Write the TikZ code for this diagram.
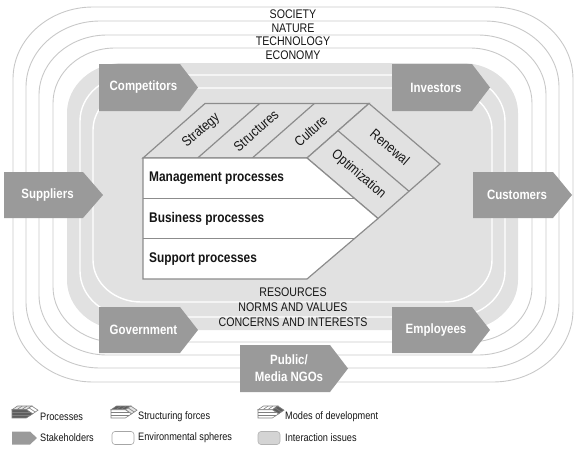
\documentclass[tikz,border=0pt]{standalone}
\usepackage{fontspec}
\setmainfont{Liberation Sans}[FakeStretch=0.85]
\definecolor{ringline}{HTML}{C8C8C8}
\definecolor{bandgray}{HTML}{E1E1E1}
\definecolor{stkgray}{HTML}{9A9A9A}
\definecolor{coreline}{HTML}{8C8C8C}
\definecolor{txt}{HTML}{151515}
\definecolor{icondark}{HTML}{5E5E5E}
\definecolor{iconlight}{HTML}{E4E4E4}

% rounded ring with elliptical corners: #1 style, #2 x1, #3 y1, #4 x2, #5 y2, #6 rx, #7 ry
\newcommand\ringdraw[7]{%
  \path[#1] (#2+#6,#3) -- (#4-#6,#3)
    .. controls (#4-0.45*#6,#3) and (#4,#3+0.45*#7) .. (#4,#3+#7)
    -- (#4,#5-#7)
    .. controls (#4,#5-0.45*#7) and (#4-0.45*#6,#5) .. (#4-#6,#5)
    -- (#2+#6,#5)
    .. controls (#2+0.45*#6,#5) and (#2,#5-0.45*#7) .. (#2,#5-#7)
    -- (#2,#3+#7)
    .. controls (#2,#3+0.45*#7) and (#2+0.45*#6,#3) .. (#2+#6,#3) -- cycle;}

% stakeholder arrow: #1 name, #2 x1, #3 y1, #4 rect right, #5 tip, #6 y2, #7 text
\newcommand\stake[7]{%
  \fill[stkgray] (#2,#3) -- (#4,#3) -- (#5,{(#3+#6)/2}) -- (#4,#6) -- (#2,#6) -- cycle;
  \node[stktext] (#1) at ({(#2+#4)/2+4},{(#3+#6)/2}) {#7};}

% core shapes: #1 process fill, #2 structuring fill, #3 modes fill, #4 line style
\newcommand\coreshape[4]{%
  \filldraw[fill=#2,#4] (143,158) -- (205,103.5) -- (369,103.5) -- (307,158) -- cycle;
  \draw[#4] (197.67,158) -- (259.67,103.5) (252.33,158) -- (314.33,103.5);
  \filldraw[fill=#3,#4] (307,158) -- (369,103.5) -- (440,164) -- (378,218.5) -- cycle;
  \draw[#4] (338,130.75) -- (409,191.25);
  \filldraw[fill=#1,#4] (143,158) -- (307,158) -- (378,218.5) -- (307,279) -- (143,279) -- cycle;
  \draw[#4] (143,198.33) -- (354.3,198.33) (143,238.67) -- (354.3,238.67);}

\tikzset{
  ringstyle/.style={draw=ringline, line width=0.9pt},
  innerring/.style={draw=white, line width=1.4pt},
  stktext/.style={text=white, font=\bfseries\fontsize{13.5}{17}\selectfont, align=center, inner sep=0pt},
  envtext/.style={text=txt, font=\fontsize{12.5}{14}\selectfont, inner sep=0pt},
  proctext/.style={text=txt, font=\bfseries\fontsize{14}{16}\selectfont, anchor=west, inner sep=0pt},
  forcetext/.style={text=txt, font=\fontsize{14}{15}\selectfont, inner sep=0pt},
  legtext/.style={text=txt, font=\fontsize{10.8}{12}\selectfont, anchor=west, inner sep=0pt},
  coreline/.style={draw=coreline, line width=1.2pt, line join=miter},
  iconline/.style={draw=black!50, line width=0.6pt}
}

\begin{document}
\begin{tikzpicture}[x=1pt,y=-1pt]
\useasboundingbox (0,0) rectangle (581,450);

% environmental spheres
\ringdraw{ringstyle}{13}{7}{573}{382}{80}{72}
\ringdraw{ringstyle}{26}{21}{559}{368}{74}{66}
\ringdraw{ringstyle}{39}{35}{546}{355}{68}{60}
\ringdraw{ringstyle}{53}{48}{532}{342}{62}{55}
% interaction issues
\ringdraw{fill=bandgray}{67}{63}{518}{330}{56}{50}
\ringdraw{innerring}{80}{75}{505}{317}{52}{46}
\ringdraw{innerring}{93}{88}{492}{302}{48}{42}

% sphere labels
\node[envtext] (society) at (293,14) {SOCIETY};
\node[envtext] (nature) at (293,28) {NATURE};
\node[envtext] (technology) at (293,41.5) {TECHNOLOGY};
\node[envtext] (economy) at (293,55.5) {ECONOMY};

% interaction labels
\node[envtext] (resources) at (293,292) {RESOURCES};
\node[envtext] (norms) at (293,307.5) {NORMS AND VALUES};
\node[envtext] (concerns) at (293,322.5) {CONCERNS AND INTERESTS};

% core
\coreshape{white}{bandgray}{bandgray}{coreline}
\node[forcetext, rotate=41.3] (strategy) at (201.3,130.75) {Strategy};
\node[forcetext, rotate=41.3] (structures) at (256,130.75) {Structures};
\node[forcetext, rotate=41.3] (culture) at (310.7,130.75) {Culture};
\node[forcetext, rotate=-40.4] (renewal) at (390,147) {Renewal};
\node[forcetext, rotate=-40.4] (optimization) at (358.5,174.5) {Optimization};
\node[proctext] (mgmt) at (149,178.2) {Management processes};
\node[proctext] (business) at (149,218.5) {Business processes};
\node[proctext] (support) at (149,258.8) {Support processes};

% stakeholders
\stake{competitors}{99}{64}{180}{198}{111}{Competitors}
\stake{investors}{392}{64}{472}{490}{111}{Investors}
\stake{suppliers}{4}{172}{83}{103}{218}{Suppliers}
\stake{customers}{473}{172}{553}{572}{218}{Customers}
\stake{government}{99}{307}{180}{198}{353}{Government}
\stake{employees}{392}{307}{472}{490}{353}{Employees}
\stake{public}{240}{345}{330}{348}{392}{Public/\\Media NGOs}

% legend icons
\begin{scope}[shift={(-0.51,399)}, xscale=0.0875, yscale=0.068]
  \coreshape{icondark}{iconlight}{white}{iconline}
\end{scope}
\begin{scope}[shift={(98.49,399)}, xscale=0.0875, yscale=0.068]
  \coreshape{white}{icondark}{iconlight}{iconline}
\end{scope}
\begin{scope}[shift={(245.49,399)}, xscale=0.0875, yscale=0.068]
  \coreshape{white}{white}{icondark}{iconline}
\end{scope}
\fill[stkgray] (12,431.5) -- (30,431.5) -- (37,438) -- (30,444.5) -- (12,444.5) -- cycle;
\draw[draw=black!35, fill=white, line width=0.6pt, rounded corners=3pt] (112,431.5) rectangle (134,444.5);
\draw[draw=black!30, fill=black!17, line width=0.6pt, rounded corners=3pt] (258,431.5) rectangle (280,444.5);

% legend texts
\node[legtext] (lproc) at (40,417) {Processes};
\node[legtext] (lstruct) at (138,417) {Structuring forces};
\node[legtext] (lmodes) at (285,417) {Modes of development};
\node[legtext] (lstake) at (40,438) {Stakeholders};
\node[legtext] (lenv) at (138,438) {Environmental spheres};
\node[legtext] (linter) at (285,438) {Interaction issues};
\end{tikzpicture}
\end{document}
